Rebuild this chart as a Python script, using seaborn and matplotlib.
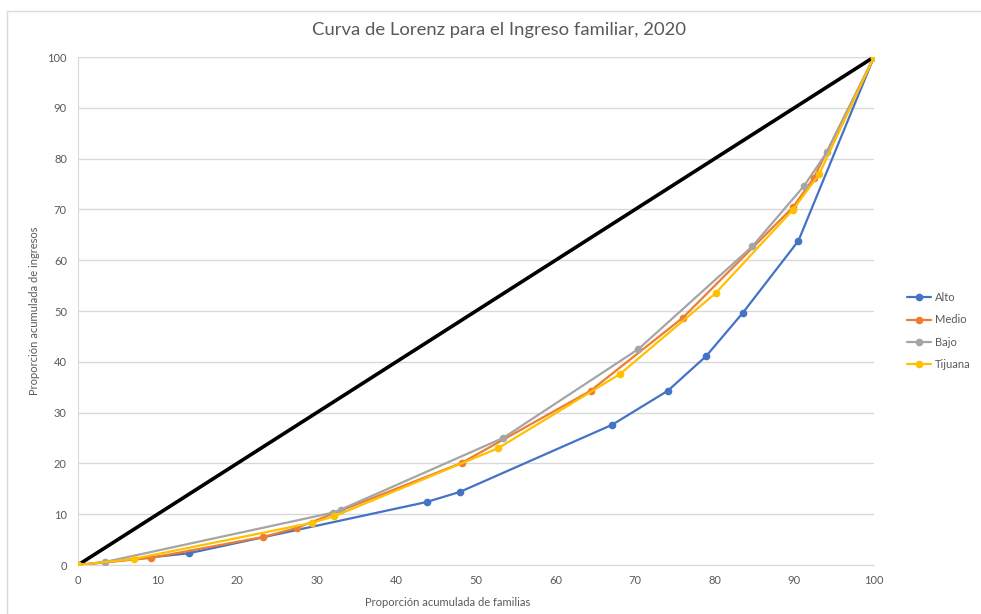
import matplotlib
matplotlib.use("Agg")
import matplotlib.pyplot as plt
from matplotlib.patches import Rectangle
import seaborn as sns
import pandas as pd

# ── Data ──────────────────────────────────────────────
alto_x = [0, 13.9, 43.8, 48.0, 67.1, 74.1, 78.9, 83.5, 90.5, 100]
alto_y = [0, 2.3, 12.4, 14.4, 27.6, 34.3, 41.1, 49.6, 63.8, 100]

medio_x = [0, 9.2, 23.2, 27.5, 48.2, 64.4, 76.0, 89.8, 92.4, 100]
medio_y = [0, 1.4, 5.5, 7.3, 20.1, 34.3, 48.7, 70.4, 76.1, 100]

bajo_x = [0, 3.4, 32.0, 33.0, 53.4, 70.4, 84.7, 91.2, 94.1, 100]
bajo_y = [0, 0.6, 10.3, 10.9, 25.0, 42.5, 62.7, 74.6, 81.3, 100]

tijuana_x = [0, 7.0, 29.4, 32.2, 52.8, 68.1, 80.1, 89.8, 93.1, 100]
tijuana_y = [0, 1.2, 8.3, 9.6, 23.0, 37.6, 53.5, 69.9, 76.9, 100]

igualdad_x = [0, 100]
igualdad_y = [0, 100]

series = ["Alto", "Medio", "Bajo", "Tijuana"]
colors = ["#4472C4", "#ED7D31", "#A5A5A5", "#FFC000"]
ticks = list(range(0, 101, 10))

frames = []
for name, xs, ys in zip(series,
                        [alto_x, medio_x, bajo_x, tijuana_x],
                        [alto_y, medio_y, bajo_y, tijuana_y]):
    frames.append(pd.DataFrame({"serie": name, "familias": xs, "ingresos": ys}))
df = pd.concat(frames, ignore_index=True)

# ── Style ─────────────────────────────────────────────
sns.set_style("white")
plt.rcParams["font.family"] = ["Lato", "DejaVu Sans"]
TXT = "#595959"

fig = plt.figure(figsize=(9.81, 6.14), dpi=100)
ax = fig.add_axes([78 / 981, 1 - 565 / 614, 796 / 981, 508 / 614])

# chart border (cropped at right/bottom in the reference)
fig.patches.append(Rectangle((7 / 981, -0.05), 1.2, (614 - 11) / 614 + 0.05,
                             transform=fig.transFigure, fill=False,
                             edgecolor="#D9D9D9", lw=1.0))

sns.lineplot(x=igualdad_x, y=igualdad_y, color="black", lw=2.6, ax=ax,
             legend=False, zorder=2)

sns.lineplot(data=df, x="familias", y="ingresos", hue="serie",
             hue_order=series, palette=dict(zip(series, colors)),
             sort=False, estimator=None, marker="o", markersize=5.5,
             markeredgewidth=0, lw=1.6, ax=ax, zorder=3)

# ── Axes ──────────────────────────────────────────────
ax.set_xlim(0, 100)
ax.set_ylim(0, 100)
ax.set_xticks(ticks)
ax.set_yticks(ticks)
ax.grid(axis="y", color="#D9D9D9", lw=1.0)
ax.grid(axis="x", visible=False)
for s in ["top", "right"]:
    ax.spines[s].set_visible(False)
ax.spines["left"].set_color("#D9D9D9")
ax.spines["bottom"].set_color("#D9D9D9")
ax.tick_params(axis="both", length=0, labelsize=8, labelcolor=TXT)
ax.tick_params(axis="y", pad=8)
ax.tick_params(axis="x", pad=7)

ax.set_xlabel("Proporción acumulada de familias", fontsize=8, color=TXT)
ax.set_ylabel("Proporción acumulada de ingresos", fontsize=8, color=TXT)
ax.xaxis.set_label_coords((448 - 78) / 796, -(597 - 565) / 508)
ax.yaxis.set_label_coords(-(78 - 40) / 796, 0.5)

fig.text(499 / 981, 1 - 30 / 614, "Curva de Lorenz para el Ingreso familiar, 2020",
         ha="center", va="center", fontsize=13.3, color=TXT)

ax.legend(loc="center left", bbox_to_anchor=(897 / 981, 1 - 331 / 614),
          bbox_transform=fig.transFigure, frameon=False, fontsize=8,
          labelcolor=TXT, handlelength=2.2, handletextpad=0.35,
          labelspacing=1.0, title=None)

fig.savefig("out.png", dpi=100)
plt.close(fig)
